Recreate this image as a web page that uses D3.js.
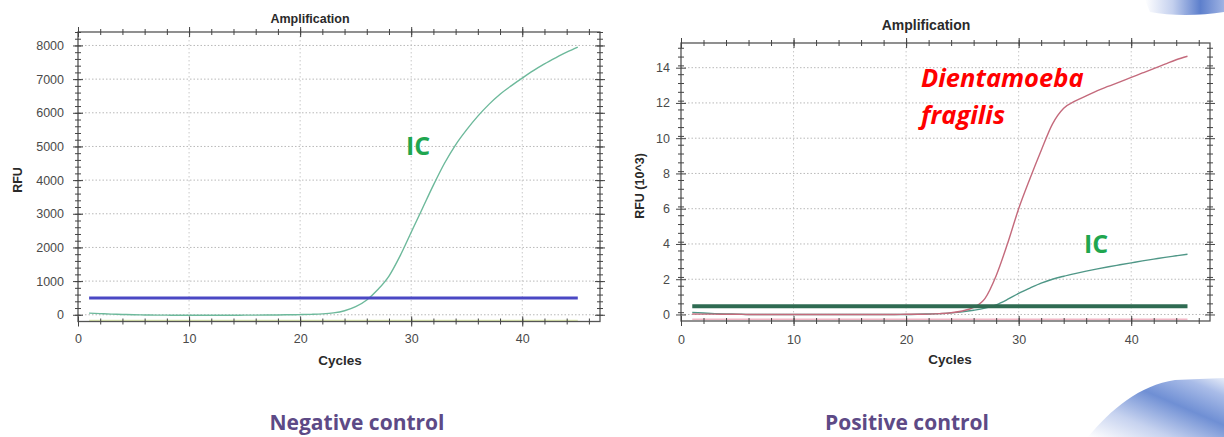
<!DOCTYPE html>
<html><head><meta charset="utf-8">
<script src="https://cdn.jsdelivr.net/npm/d3@7"></script>
<style>body{margin:0;background:#fff;} svg{display:block;}</style>
</head><body>
<svg id="c" width="1224" height="437"></svg>
<script>
// ---------- data ----------
const cycles = [1,2,3,4,5,6,7,8,9,10,11,12,13,14,15,16,17,18,19,20,21,22,23,24,25,26,27,28,29,30,31,32,33,34,35,36,37,38,39,40,41,42,43,44,45];
// Negative control: internal control (IC) curve, RFU
const negIC = [50,35,20,10,0,-5,-10,-12,-15,-15,-15,-15,-15,-15,-12,-10,-8,-5,0,5,12,25,55,120,240,440,750,1150,1750,2450,3150,3850,4500,5050,5500,5900,6250,6550,6800,7030,7250,7450,7630,7800,7950];
const negThreshold = [500, 500];           // start / end of threshold line
const negBaseline = [-170, -170];          // faint baseline trace
// Positive control, RFU (10^3)
const posDientamoeba = [0.03,0.02,0.02,0.01,0.01,0,0,0,0,0,0,0,0,0,0,0,0,0,0,0.01,0.01,0.02,0.05,0.1,0.2,0.4,0.9,2.2,4.0,6.0,7.7,9.3,10.8,11.7,12.1,12.4,12.7,12.95,13.2,13.45,13.7,13.95,14.2,14.45,14.65];
const posIC = [0.12,0.08,0.05,0.03,0.02,0,0,0,0,0,0,0,0,0,0,0,0,0,0,0,0.01,0.03,0.05,0.09,0.15,0.24,0.36,0.55,0.85,1.2,1.5,1.78,2.0,2.17,2.32,2.46,2.59,2.71,2.82,2.93,3.04,3.14,3.24,3.33,3.42];
const posThreshold = [0.47, 0.47];
const posBaseline = [-0.27, -0.27];
const thresholdCycles = [1, 45];
// ticks
const xTicks = [0,10,20,30,40];
const negYTicks = [0,1000,2000,3000,4000,5000,6000,7000,8000];
const posYTicks = [0,2,4,6,8,10,12,14];
const panelTitle = "Amplification";
const xTitle = "Cycles";
const negYTitle = "RFU";
const posYTitle = "RFU (10^3)";
const captions = ["Negative control", "Positive control"];

// ---------- drawing ----------
const svg = d3.select("#c");
const defs = svg.append("defs");

function drawPanel(o) {
  const g = svg.append("g");
  const x = d3.scaleLinear().domain([0, 47]).range([o.L, o.R]);
  const y = d3.scaleLinear().domain(o.yDom).range([o.B, o.T]);

  // gridlines
  g.append("g").selectAll("line").data(o.yTicks).join("line")
    .attr("x1", o.L).attr("x2", o.R).attr("y1", d => y(d)).attr("y2", d => y(d))
    .attr("stroke", "#b9b9b9").attr("stroke-width", 1).attr("stroke-dasharray", "1.5,2");
  g.append("g").selectAll("line").data(xTicks.filter(d => d > 0)).join("line")
    .attr("x1", d => x(d)).attr("x2", d => x(d)).attr("y1", o.T).attr("y2", o.B)
    .attr("stroke", "#c8c8c8").attr("stroke-width", 1).attr("stroke-dasharray", "1.5,2.5");

  // faint baseline
  g.append("path").datum(o.base)
    .attr("d", d3.line().x((d, i) => x(thresholdCycles[i])).y(d => y(d)))
    .attr("stroke", o.baseColor).attr("stroke-width", 1.5).attr("fill", "none");

  // curves
  const line = d3.line().x((d, i) => x(cycles[i])).y(d => y(d)).curve(d3.curveMonotoneX);
  o.series.forEach(s => {
    g.append("path").datum(s.values).attr("d", line)
      .attr("fill", "none").attr("stroke", s.color).attr("stroke-width", s.width);
  });
  // threshold
  g.append("path").datum(o.thr)
    .attr("d", d3.line().x((d, i) => x(thresholdCycles[i])).y(d => y(d)))
    .attr("stroke", o.thrColor).attr("stroke-width", o.thrWidth).attr("fill", "none");

  // frame
  g.append("rect").attr("x", o.L).attr("y", o.T).attr("width", o.R - o.L).attr("height", o.B - o.T)
    .attr("fill", "none").attr("stroke", "#555").attr("stroke-width", 1.3);

  // ticks (crossing style) on all 4 sides
  const yMinor = d3.range(o.yDom[0], o.yDom[1] + 1e-9, o.yMinorStep).filter(v => v > o.yDom[0] + 1e-9);
  const xMinor = d3.range(2, 47, 2);
  const tk = (axis, tx, ty) => {
    const a = g.append("g").attr("transform", `translate(${tx},${ty})`).call(axis);
    a.select(".domain").remove();
    a.selectAll("line").attr("stroke", "#444").attr("stroke-width", 1);
    a.selectAll("text").remove();
  };
  [[d3.axisLeft, o.L], [d3.axisRight, o.L], [d3.axisLeft, o.R], [d3.axisRight, o.R]].forEach(([f, px]) => {
    tk(f(y).tickValues(yMinor).tickSize(3), px, 0);
    tk(f(y).tickValues(o.yTicks).tickSize(5), px, 0);
  });
  [[d3.axisTop, o.T], [d3.axisBottom, o.T], [d3.axisTop, o.B], [d3.axisBottom, o.B]].forEach(([f, py]) => {
    tk(f(x).tickValues(xMinor).tickSize(3), 0, py);
    tk(f(x).tickValues(xTicks).tickSize(5), 0, py);
  });

  // labels
  const ya = g.append("g").attr("transform", `translate(${o.L},0)`)
    .call(d3.axisLeft(y).tickValues(o.yTicks).tickSize(0).tickPadding(o.yPad).tickFormat(d3.format("d")));
  ya.select(".domain").remove();
  ya.selectAll("text").attr("font-family", "Liberation Sans, Arial, sans-serif")
    .attr("font-size", o.fs).attr("fill", "#4a4a4a");
  const xa = g.append("g").attr("transform", `translate(0,${o.B})`)
    .call(d3.axisBottom(x).tickValues(xTicks).tickSize(0).tickPadding(o.xPad).tickFormat(d3.format("d")));
  xa.select(".domain").remove();
  xa.selectAll("text").attr("font-family", "Liberation Sans, Arial, sans-serif")
    .attr("font-size", o.fs).attr("fill", "#4a4a4a");

  const txt = (s, tx, ty, fs, extra) => {
    const t = g.append("text").text(s).attr("x", tx).attr("y", ty)
      .attr("text-anchor", "middle").attr("font-family", "Liberation Sans, Arial, sans-serif")
      .attr("font-weight", "bold").attr("font-size", fs).attr("fill", "#2a2a2a");
    if (extra) extra(t);
    return t;
  };
  txt(panelTitle, o.titleX, o.titleY, o.titleFs);
  txt(xTitle, o.xtX, o.xtY, o.xtFs);
  txt(o.yTitle, 0, 0, o.ytFs, t => t.attr("x", null).attr("y", null)
    .attr("transform", `translate(${o.ytX},${o.ytY}) rotate(-90)`));

  // caption
  svg.append("text").text(o.caption).attr("x", o.capX).attr("y", 430)
    .attr("text-anchor", "middle").attr("font-family", "Open Sans, Lato, sans-serif")
    .attr("font-weight", "bold").attr("font-size", 21).attr("fill", "#5d4a86");
  return {x, y};
}

drawPanel({
  L: 78, R: 600, T: 32, B: 321.5, yDom: [-200, 8400], yTicks: negYTicks, yMinorStep: 200,
  series: [{values: negIC, color: "#6db99b", width: 1.4}],
  thr: negThreshold, thrColor: "#4a48c4", thrWidth: 3,
  base: negBaseline, baseColor: "#dfeab0",
  fs: 12.5, yPad: 14, xPad: 13,
  titleX: 310, titleY: 22.5, titleFs: 12.5,
  xtX: 340, xtY: 365, xtFs: 13.5,
  yTitle: negYTitle, ytX: 22, ytY: 180, ytFs: 12.5,
  caption: captions[0], capX: 357
});
drawPanel({
  L: 681, R: 1210, T: 43, B: 321, yDom: [-0.37, 15.4], yTicks: posYTicks, yMinorStep: 0.5,
  series: [{values: posIC, color: "#4f9787", width: 1.4}, {values: posDientamoeba, color: "#c46a7c", width: 1.4}],
  thr: posThreshold, thrColor: "#2f6b52", thrWidth: 4,
  base: posBaseline, baseColor: "#f2b8c6",
  fs: 12.5, yPad: 11, xPad: 14,
  titleX: 926, titleY: 29.5, titleFs: 14,
  xtX: 950, xtY: 364, xtFs: 13.5,
  yTitle: posYTitle, ytX: 644, ytY: 186, ytFs: 12.5,
  caption: captions[1], capX: 907
});

// series annotations
const ann = (s, x, y, fs, color, italic) => svg.append("text").text(s).attr("x", x).attr("y", y)
  .attr("font-family", "Open Sans, Lato, sans-serif").attr("font-weight", "bold")
  .attr("font-style", italic ? "italic" : "normal").attr("font-size", fs).attr("fill", color);
ann("IC", 406, 155, 25, "#1fa64f");
ann("IC", 1084, 253, 25, "#1fa64f");
ann("Dientamoeba", 921, 87, 25.5, "#ff0000", true);
ann("fragilis", 921, 124, 25.5, "#ff0000", true);

// decorative corner swooshes
const g1 = defs.append("linearGradient").attr("id", "sw1").attr("x1", "0").attr("x2", "1").attr("y1", "0").attr("y2", "0");
g1.append("stop").attr("offset", "0").attr("stop-color", "#ffffff");
g1.append("stop").attr("offset", "0.35").attr("stop-color", "#c4d0ee");
g1.append("stop").attr("offset", "0.7").attr("stop-color", "#5d7fcc");
g1.append("stop").attr("offset", "1").attr("stop-color", "#9fb3e3");
svg.append("path").attr("d", "M1145,0 L1224,0 L1224,12 C1200,16 1170,16 1150,12 Z").attr("fill", "url(#sw1)");
const g2 = defs.append("linearGradient").attr("id", "sw2").attr("x1", "0").attr("x2", "1").attr("y1", "1").attr("y2", "0");
g2.append("stop").attr("offset", "0").attr("stop-color", "#ffffff");
g2.append("stop").attr("offset", "0.3").attr("stop-color", "#c6d2ef");
g2.append("stop").attr("offset", "0.6").attr("stop-color", "#6f8fd4");
g2.append("stop").attr("offset", "0.85").attr("stop-color", "#a9bce8");
g2.append("stop").attr("offset", "1").attr("stop-color", "#e6ecf8");
svg.append("path").attr("d", "M1088,437 C1110,410 1140,385 1175,380 L1224,378 L1224,437 Z").attr("fill", "url(#sw2)");
</script>
</body></html>
